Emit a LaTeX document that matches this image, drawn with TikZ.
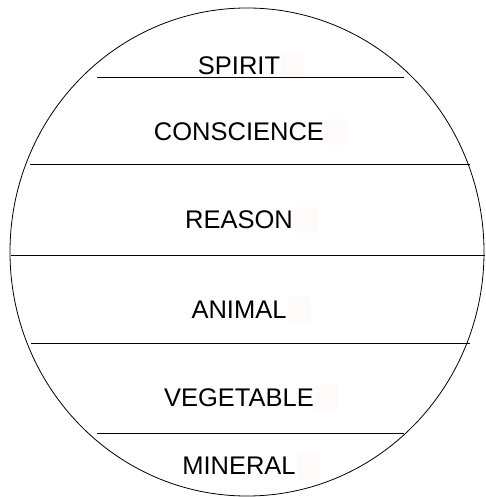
\documentclass[tikz,border=0pt]{standalone}
\usepackage{fontspec}
\setmainfont{Liberation Sans}
\usetikzlibrary{positioning}

\begin{document}
\begin{tikzpicture}[x=1pt, y=-1pt,
  level/.style={font=\fontsize{25.5}{30}\selectfont, inner sep=0pt},
  tag/.style={fill=red!2, minimum width=23pt, minimum height=26pt,
    inner sep=0pt},
  divider/.style={line width=0.9pt},
]
  \useasboundingbox (0,0) rectangle (485,497);
  % Level names
  \node[level] (spirit) at (239,66) {SPIRIT};
  \node[level] (conscience) at (239,132) {CONSCIENCE};
  \node[level] (reason) at (239,220) {REASON};
  \node[level] (animal) at (239,310) {ANIMAL};
  \node[level] (vegetable) at (239,398) {VEGETABLE};
  \node[level] (mineral) at (239,466) {MINERAL};
  % Faint boxes after the names
  \node[tag, right=1pt of spirit] (spirittag) {};
  \node[tag, right=1pt of conscience] (consciencetag) {};
  \node[tag, right=1pt of reason] (reasontag) {};
  \node[tag, right=1pt of animal] (animaltag) {};
  \node[tag, right=1pt of vegetable] (vegetabletag) {};
  \node[tag, right=1pt of mineral] (mineraltag) {};
  % Outer circle
  \draw[line width=0.8pt] (247,252) ellipse [x radius=237pt, y radius=244pt];
  % Dividers
  \draw[divider] (97,77) -- (404,77);
  \draw[divider] (30,164) -- (470,164);
  \draw[divider] (11,255) -- (485,255);
  \draw[divider] (31,343) -- (470,343);
  \draw[divider] (97,433) -- (404,433);
\end{tikzpicture}
\end{document}
